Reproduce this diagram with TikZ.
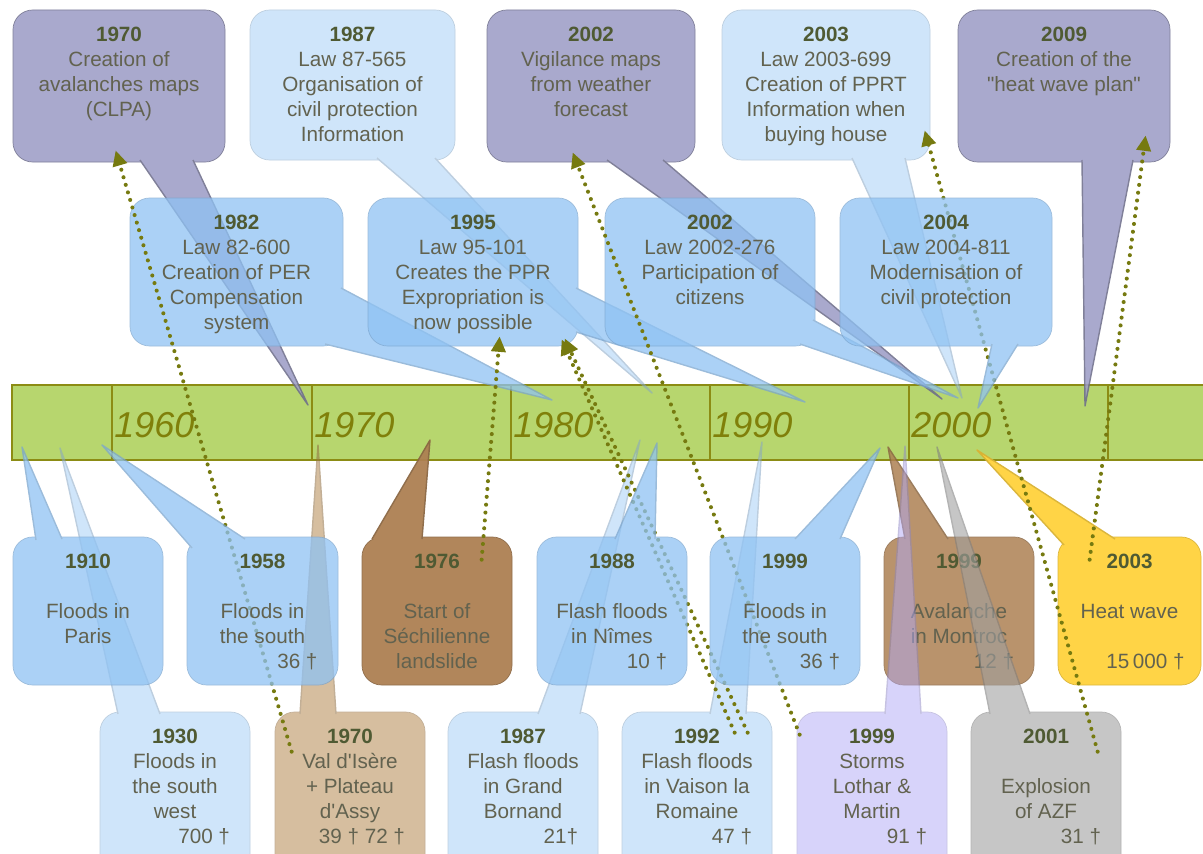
\documentclass[tikz,border=0pt]{standalone}
\usepackage{fontspec}
\setmainfont{Liberation Sans}
\usepackage{xcolor}
\usepackage{tikz}
\usetikzlibrary{arrows.meta, fit, calc}

\definecolor{barfill}{HTML}{B7D66E}
\definecolor{baredge}{HTML}{8C8C14}
\definecolor{decadetext}{HTML}{80800A}
\definecolor{yeartext}{HTML}{4F5A33}
\definecolor{bodytext}{HTML}{62624F}
\definecolor{linkolive}{HTML}{767A10}
\definecolor{lilacfill}{HTML}{9D9DC6}
\definecolor{skyfill}{HTML}{8FC2F3}
\definecolor{palefill}{HTML}{A8D0F6}
\definecolor{earthfill}{HTML}{AD8052}
\definecolor{sandfill}{HTML}{B48850}
\definecolor{mauvefill}{HTML}{B0A8F5}
\definecolor{ashfill}{HTML}{A0A0A0}
\definecolor{sunfill}{HTML}{FFD23C}

% year heading and right-aligned death toll inside a bubble
\newcommand\yr[1]{\textcolor{yeartext}{\bfseries #1}}
\newcommand\toll[1]{\makebox[2.75cm][r]{#1}}
% straight double quote, kept out of the TeX ligature mapping
\newcommand\dquote{\XeTeXglyph\XeTeXcharglyph"22\relax}

% bubble: colour style, name, box corners, tail (base -- tip -- base), text
\newcommand\bubble[5]{%
  \begin{scope}[transparency group, #1]
    \node[box, paint, fit={#3}] (#2) {};
    \filldraw[paint, line join=round] #4;
  \end{scope}
  \node[txt] (#2-label) at ([yshift=-12pt]#2.north) {#5};
}

\begin{document}
\begin{tikzpicture}[x=0.025cm, y=-0.025cm, font=\fontsize{14.7pt}{17.8pt}\selectfont]
    \tikzstyle{box} = [rectangle, rounded corners=14pt, inner sep=0pt, line width=0.5pt]
    \tikzstyle{txt} = [anchor=north, align=center, inner sep=0pt, text=bodytext]
    \tikzstyle{lilac} = [opacity=.88, paint/.style={fill=lilacfill, draw=lilacfill!70!black}]
    \tikzstyle{pale} = [opacity=.55, paint/.style={fill=palefill, draw=palefill!80!black}]
    \tikzstyle{sky} = [opacity=.75, paint/.style={fill=skyfill, draw=skyfill!85!black}]
    \tikzstyle{earth} = [opacity=.95, paint/.style={fill=earthfill, draw=earthfill!80!black}]
    \tikzstyle{earthlight} = [opacity=.85, paint/.style={fill=earthfill, draw=earthfill!80!black}]
    \tikzstyle{sand} = [opacity=.55, paint/.style={fill=sandfill, draw=sandfill!80!black}]
    \tikzstyle{mauve} = [opacity=.5, paint/.style={fill=mauvefill, draw=mauvefill!80!black}]
    \tikzstyle{ash} = [opacity=.6, paint/.style={fill=ashfill, draw=ashfill!80!black}]
    \tikzstyle{sun} = [opacity=.95, paint/.style={fill=sunfill, draw=sunfill!85!black}]
    \tikzstyle{bar} = [fill=barfill, draw=baredge, line width=1.4pt]
    \tikzstyle{tick} = [draw=baredge, line width=1.1pt]
    \tikzstyle{decade} = [anchor=base west, inner sep=0pt, text=decadetext, font=\fontsize{25.6pt}{30pt}\selectfont\itshape]
    \tikzstyle{link} = [draw=linkolive, line width=2.9pt, line cap=round, dash pattern=on 0pt off 5.6pt, -{Triangle[length=11pt, width=10pt]}]

    \useasboundingbox (0,0) rectangle (1203,854);

    % time axis
    \draw[bar] (12,385) rectangle (1215,460);
    \foreach \x in {112, 312, 511, 710, 909, 1108}
        \draw[tick] (\x,385) -- (\x,460);
    \foreach \x/\d in {112/1960, 312/1970, 511/1980, 710/1990, 909/2000}
        \node[decade] (dec\d) at (\x+2,437) {\d};

    % measures, top row
    \bubble{lilac}{clpa}{(13,10) (225,162)}{(140,160) -- (308,405) -- (193,160)}
        {\yr{1970}\\Creation of\\avalanches maps\\(CLPA)}
    \bubble{pale}{law87}{(250,10) (455,160)}{(377,158) -- (652,393) -- (435,158)}
        {\yr{1987}\\Law 87-565\\Organisation of\\civil protection\\Information}
    \bubble{lilac}{vigil}{(487,10) (695,162)}{(607,160) -- (942,399) -- (663,160)}
        {\yr{2002}\\Vigilance maps\\from weather\\forecast}
    \bubble{pale}{law03}{(722,10) (930,160)}{(852,158) -- (962,398) -- (905,158)}
        {\yr{2003}\\Law 2003-699\\Creation of PPRT\\Information when\\buying house}
    \bubble{lilac}{heatplan}{(958,10) (1170,162)}{(1082,160) -- (1085,406) -- (1133,160)}
        {\yr{2009}\\Creation of the\\\dquote heat wave plan\dquote}

    % laws, second row
    \bubble{sky}{law82}{(130,198) (343,346)}{(341,288) -- (552,400) -- (325,344)}
        {\yr{1982}\\Law 82-600\\Creation of PER\\Compensation\\system}
    \bubble{sky}{law95}{(368,198) (578,346)}{(576,288) -- (805,402) -- (576,332)}
        {\yr{1995}\\Law 95-101\\Creates the PPR\\Expropriation is\\now possible}
    \bubble{sky}{law02}{(605,198) (815,346)}{(800,344) -- (958,398) -- (813,320)}
        {\yr{2002}\\Law 2002-276\\Participation of\\citizens}

    % events below the axis
    \bubble{earth}{sechilienne}{(362,537) (512,685)}{(372,539) -- (430,440) -- (422,539)}
        {\yr{1976}\\[17.8pt]Start of\\Séchilienne\\landslide}
    \bubble{earthlight}{montroc}{(884,537) (1034,685)}{(905,539) -- (888,447) -- (948,539)}
        {\yr{1999}\\[17.8pt]Avalanche\\in Montroc\\\toll{12 †}}
    \bubble{sun}{heatwave}{(1058,537) (1201,685)}{(1064,545) -- (977,450) -- (1115,539)}
        {\yr{2003}\\[17.8pt]Heat wave\\[17.8pt]\toll{15\,000 †}}

    \bubble{pale}{southwest}{(100,712) (250,875)}{(118,714) -- (60,448) -- (160,714)}
        {\yr{1930}\\Floods in\\the south\\west\\\toll{700 †}}
    \bubble{sand}{valdisere}{(275,712) (425,875)}{(300,714) -- (318,445) -- (336,714)}
        {\yr{1970}\\Val d\textquotesingle Isère\\+ Plateau\\d\textquotesingle Assy\\\toll{39 † 72 †}}
    \bubble{pale}{bornand}{(448,712) (598,875)}{(538,714) -- (640,440) -- (580,714)}
        {\yr{1987}\\Flash floods\\in Grand\\Bornand\\\toll{21†}}
    \bubble{pale}{vaison}{(622,712) (772,875)}{(710,714) -- (762,442) -- (746,714)}
        {\yr{1992}\\Flash floods\\in Vaison la\\Romaine\\\toll{47 †}}
    \bubble{mauve}{storms}{(797,712) (947,875)}{(885,714) -- (905,446) -- (921,714)}
        {\yr{1999}\\Storms\\Lothar \&\\Martin\\\toll{91 †}}
    \bubble{ash}{azf}{(971,712) (1121,875)}{(990,714) -- (937,447) -- (1030,714)}
        {\yr{2001}\\[17.8pt]Explosion\\of AZF\\\toll{31 †}}

    % which event led to which measure
    \draw[link] ([shift={(17,40)}]valdisere.north west) -- ([shift={(103,-12)}]clpa.south west);
    \draw[link] ([shift={(120,23)}]sechilienne.north west) -- ([shift={(132,-10)}]law95.south west);
    \draw[link] ([shift={(126,21)}]vaison.north west) -- ([shift={(197,-8)}]law95.south west);
    \draw[link] ([shift={(113,21)}]vaison.north west) -- ([shift={(194,-7)}]law95.south west);
    \draw[link] ([shift={(3,23)}]storms.north west) -- ([shift={(86,-10)}]vigil.south west);
    \draw[link] ([shift={(127,40)}]azf.north west) -- ([shift={(203,-30)}]law03.south west);
    \draw[link] ([shift={(32,23)}]heatwave.north west) -- ([shift={(188,-27)}]heatplan.south west);

    % blue bubbles lying over the links
    \bubble{sky}{paris}{(13,537) (163,685)}{(36,540) -- (22,447) -- (62,539)}
        {\yr{1910}\\[17.8pt]Floods in\\Paris}
    \bubble{sky}{south58}{(187,537) (338,685)}{(192,548) -- (102,445) -- (245,539)}
        {\yr{1958}\\[17.8pt]Floods in\\the south\\\toll{36 †}}
    \bubble{sky}{nimes}{(537,537) (687,685)}{(615,539) -- (657,443) -- (655,539)}
        {\yr{1988}\\[17.8pt]Flash floods\\in Nîmes\\\toll{10 †}}
    \bubble{sky}{south99}{(710,537) (860,685)}{(795,539) -- (880,448) -- (840,539)}
        {\yr{1999}\\[17.8pt]Floods in\\the south\\\toll{36 †}}
    \bubble{sky}{law04}{(840,198) (1052,346)}{(992,344) -- (978,408) -- (1018,344)}
        {\yr{2004}\\Law 2004-811\\Modernisation of\\civil protection}
\end{tikzpicture}
\end{document}
